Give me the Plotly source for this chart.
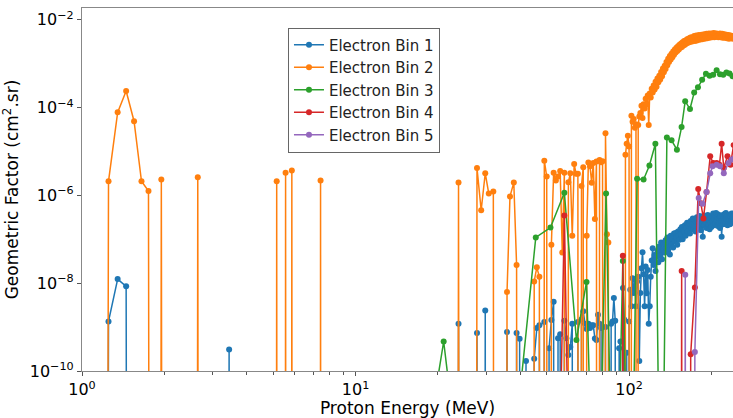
import math
import plotly.graph_objects as go

# ---------------- data (0 = no response, falls below the axis) ----------------
# Electron Bin 1 : sparse part
bin1_lo_energy = [1.15, 1.25, 1.35, 1.45, 1.55, 3.35, 3.45, 3.55,
                  22.8, 23.8, 24.8, 26.8, 27.8, 28.8, 29.8, 30.8, 34.8, 35.8, 36.8, 37.8, 38.8,
                  39.8, 41, 42, 43, 44, 45, 46, 47, 48, 49, 50, 51, 52, 53, 54, 55, 56, 57, 58,
                  59, 60, 61, 62, 63, 64, 65, 66, 67, 68, 69, 70, 71, 72, 73, 74, 75, 76, 77, 78,
                  79, 80, 81, 82, 83, 85, 86, 87, 88, 89, 90, 91, 92, 93, 94, 95, 96, 97, 98]
bin1_lo_gf = [0, 1.35e-9, 1.24e-8, 8.5e-9, 0, 0, 3.1e-10, 0,
              0, 1.2e-9, 0, 0, 7.3e-10, 0, 2.4e-9, 0, 0, 7.7e-10, 0, 0, 7.3e-10,
              5.4e-10, 0, 1.7e-10, 0, 0, 1.9e-10, 9.5e-10, 1.1e-9, 0, 1.3e-9, 0, 3.3e-10,
              1.45e-9, 3.8e-9, 0, 5.6e-10, 6.9e-10, 0, 1.4e-9,
              5.6e-10, 2.3e-10, 3.5e-10, 1.2e-9, 0, 0, 1.3e-9, 0, 1.5e-9, 2.3e-9, 1.2e-9,
              9e-10, 1.2e-9, 9.5e-10, 1.1e-9, 1.1e-9, 5.5e-10, 5.1e-10, 1.9e-9, 1.2e-9,
              9.5e-10, 0, 0, 1.0e-9, 0, 0, 1.2e-9, 1.35e-9, 4.6e-9, 1.4e-9, 0, 0, 3.3e-10,
              4.7e-10, 0, 7.8e-9, 1.5e-9, 0, 2.6e-10]
# Electron Bin 1 : dense part (1 MeV steps)
bin1_hi_energy = [99, 100, 101, 102, 103, 104, 105, 106, 107, 108,
                  109, 110, 111, 112, 113, 114, 115, 116, 117, 118,
                  119, 120, 121, 122, 123, 124, 125, 126, 127, 128,
                  129, 130, 131, 132, 133, 134, 135, 136, 137, 138,
                  139, 140, 141, 142, 143, 144, 145, 146, 147, 148,
                  149, 150, 151, 152, 153, 154, 155, 156, 157, 158,
                  159, 160, 161, 162, 163, 164, 165, 166, 167, 168,
                  169, 170, 171, 172, 173, 174, 175, 176, 177, 178,
                  179, 180, 181, 182, 183, 184, 185, 186, 187, 188,
                  189, 190, 191, 192, 193, 194, 195, 196, 197, 198,
                  199, 200, 201, 202, 203, 204, 205, 206, 207, 208,
                  209, 210, 211, 212, 213, 214, 215, 216, 217, 218,
                  219, 220, 221, 222, 223, 224, 225, 226, 227, 228,
                  229, 230, 231, 232, 233, 234, 235, 236, 237, 238,
                  239, 240, 241, 242]
bin1_hi_gf = [0, 1.35e-9, 7.1e-9, 3e-9, 1.3e-8, 6e-9, 1.2e-8, 3e-9, 1.1e-8, 1.4e-8,
              1.7e-10, 6e-9, 2.2e-8, 5.1e-8, 1.6e-8, 3e-9, 2.4e-8, 5.9e-9, 2.0e-8, 1.2e-9,
              3e-9, 1.4e-8, 3.3e-8, 6.3e-8, 2.6e-8, 4.4e-8, 1.9e-8, 4.1e-8, 5.5e-8, 3.0e-8,
              6.9e-8, 4.2e-8, 8.5e-8, 3.5e-8, 6.0e-8, 7.9e-8, 5.0e-8, 9.5e-8, 6.2e-8, 1.1e-7,
              5.5e-8, 8.8e-8, 4.5e-8, 1.2e-7, 7.5e-8, 1.05e-7, 6.5e-8, 1.35e-7, 9e-8, 1.4e-7,
              1.1e-7, 7.5e-8, 1.5e-7, 1.2e-7, 9.8e-8, 1.7e-7, 1.3e-7, 1.9e-7, 1.0e-7, 1.6e-7,
              1.5e-7, 2.1e-7, 1.2e-7, 1.8e-7, 2.4e-7, 1.5e-7, 2.0e-7, 2.3e-7, 1.35e-7, 2.6e-7,
              1.8e-7, 2.2e-7, 3.0e-7, 1.7e-7, 2.1e-7, 2.7e-7, 1.5e-7, 2.5e-7, 3.2e-7, 2.8e-7,
              1.9e-7, 2.4e-7, 3.4e-7, 2.2e-7, 1.6e-7, 2.9e-7, 2.3e-7, 1.15e-7, 2.6e-7, 3.5e-7,
              2.1e-7, 3.0e-7, 2.5e-7, 1.8e-7, 3.3e-7, 3.6e-7, 2.2e-7, 2.8e-7, 1.7e-7, 3.1e-7,
              2.4e-7, 1.9e-7, 3.4e-7, 2.6e-7, 3.9e-7, 2.1e-7, 2.9e-7, 3.5e-7, 2.3e-7, 4.0e-7,
              2.7e-7, 3.2e-7, 2.0e-7, 3.7e-7, 2.5e-7, 3.0e-7, 1.8e-7, 3.3e-7, 2.6e-7, 1.15e-7,
              2.4e-7, 3.6e-7, 2.2e-7, 3.1e-7, 2.7e-7, 3.8e-7, 2.3e-7, 4.0e-7, 2.9e-7, 3.4e-7,
              2.1e-7, 3.0e-7, 2.5e-7, 3.6e-7, 2.8e-7, 2.2e-7, 3.3e-7, 2.6e-7, 3.9e-7, 2.4e-7,
              3.1e-7, 2.7e-7, 3.4e-7, 2.9e-7]

# Electron Bin 2 : sparse part
bin2_lo_energy = [1.15, 1.25, 1.35, 1.45, 1.55, 1.65, 1.75, 1.85, 1.95, 2.05, 2.55, 2.65,
                  2.75, 5.05, 5.15, 5.25, 5.45, 5.55, 5.65, 5.75, 5.85, 5.95, 7.35, 7.45, 7.55,
                  22.8, 23.8, 24.8, 26.8, 27.8, 28.8, 29.8, 30.7, 31.9, 32.9, 34.8, 35.8, 36.7,
                  37.9, 38.8, 39.8,
                  44, 45, 46, 47, 48, 49, 50, 51, 52, 53, 54, 55, 56, 57, 58, 59, 60, 61, 62,
                  63, 64, 65, 66, 67, 68, 69, 70, 71, 72, 73, 74, 75, 76, 77, 78, 79, 80, 81,
                  82, 83, 84, 85, 96, 97, 98, 99, 100, 101, 102, 103, 104, 105, 106, 107, 108,
                  109]
bin2_lo_gf = [0, 2.1e-6, 7.8e-5, 2.4e-4, 4.9e-5, 2.1e-6, 1.26e-6, 0, 2.3e-6, 0, 0, 2.6e-6,
              0, 0, 2.1e-6, 0, 0, 3.3e-6, 0, 0, 3.7e-6, 0, 0, 2.2e-6, 0,
              0, 1.96e-6, 0, 0, 4.2e-6, 4.6e-7, 3.2e-6, 1.1e-6, 1.23e-6, 0, 0, 6.3e-9, 9.5e-7,
              1.96e-6, 2.6e-8, 0,
              0, 1.1e-8, 2.3e-8, 1.4e-8, 0, 6.2e-6, 2.7e-6, 0, 7.5e-8, 3.3e-6, 2.2e-6, 2.7e-6,
              3.6e-6, 5e-8, 3.3e-6, 0, 2.0e-6, 3.2e-6, 1.2e-7,
              5.2e-6, 3.1e-6, 3.1e-6, 0, 1.65e-6, 4.4e-6, 0, 1.2e-7, 5.6e-6, 4.6e-6, 1.95e-6,
              5.5e-6, 2.9e-7, 5.9e-6, 0, 6.4e-6, 5.7e-6, 6.0e-6, 0,
              2.6e-5, 1.3e-7, 8.5e-8, 0, 0, 8.4e-6, 1.5e-5, 2.3e-5, 1.3e-5, 0, 6.5e-5, 4.8e-5,
              5.5e-5, 3.5e-5, 4.2e-5, 0, 4.0e-5,
              6.3e-5]
# Electron Bin 2 : dense part (1 MeV steps)
bin2_hi_energy = [110, 111, 112, 113, 114, 115, 116, 117, 118, 119,
                  120, 121, 122, 123, 124, 125, 126, 127, 128, 129,
                  130, 131, 132, 133, 134, 135, 136, 137, 138, 139,
                  140, 141, 142, 143, 144, 145, 146, 147, 148, 149,
                  150, 151, 152, 153, 154, 155, 156, 157, 158, 159,
                  160, 161, 162, 163, 164, 165, 166, 167, 168, 169,
                  170, 171, 172, 173, 174, 175, 176, 177, 178, 179,
                  180, 181, 182, 183, 184, 185, 186, 187, 188, 189,
                  190, 191, 192, 193, 194, 195, 196, 197, 198, 199,
                  200, 201, 202, 203, 204, 205, 206, 207, 208, 209,
                  210, 211, 212, 213, 214, 215, 216, 217, 218, 219,
                  220, 221, 222, 223, 224, 225, 226, 227, 228, 229,
                  230, 231, 232, 233, 234, 235, 236, 237, 238, 239,
                  240, 241, 242]
bin2_hi_gf = [7.5e-5, 1.1e-4, 5.8e-5, 1.2e-4, 9.5e-5, 1.6e-4, 1.2e-4, 1.9e-4, 4.0e-5, 2.1e-4,
              1.7e-4, 2.7e-4, 2.2e-4, 3.2e-4, 2.6e-4, 3.9e-4, 3.0e-4, 4.6e-4, 3.8e-4, 5.3e-4,
              4.4e-4, 6.5e-4, 5.2e-4, 7.8e-4, 6.4e-4, 9.0e-4, 7.6e-4, 1.1e-3, 9.2e-4, 1.3e-3,
              1.1e-3, 1.5e-3, 1.25e-3, 1.7e-3, 1.4e-3, 1.9e-3, 1.6e-3, 2.1e-3, 1.8e-3, 2.3e-3,
              1.95e-3, 2.5e-3, 2.1e-3, 2.7e-3, 2.3e-3, 2.9e-3, 2.4e-3, 3.1e-3, 2.6e-3, 3.3e-3,
              2.7e-3, 3.4e-3, 2.9e-3, 3.6e-3, 3.0e-3, 3.7e-3, 3.1e-3, 3.9e-3, 3.2e-3, 4.0e-3,
              3.2e-3, 3.9e-3, 3.5e-3, 4.3e-3, 3.3e-3, 3.8e-3, 4.4e-3, 3.4e-3, 4.0e-3, 3.6e-3,
              4.5e-3, 3.5e-3, 4.1e-3, 3.7e-3, 4.6e-3, 3.6e-3, 4.2e-3, 3.9e-3, 4.7e-3, 3.7e-3,
              4.4e-3, 4.0e-3, 4.8e-3, 3.8e-3, 4.5e-3, 4.1e-3, 4.9e-3, 3.9e-3, 4.6e-3, 4.2e-3,
              4.9e-3, 4.0e-3, 4.7e-3, 4.3e-3, 5.0e-3, 4.0e-3, 4.6e-3, 4.2e-3, 4.9e-3, 4.1e-3,
              4.8e-3, 4.3e-3, 4.0e-3, 4.7e-3, 4.2e-3, 4.9e-3, 4.0e-3, 4.5e-3, 4.1e-3, 4.8e-3,
              3.9e-3, 4.6e-3, 4.2e-3, 4.7e-3, 3.9e-3, 4.4e-3, 4.1e-3, 4.6e-3, 3.8e-3, 4.4e-3,
              4.0e-3, 4.5e-3, 3.7e-3, 4.3e-3, 3.9e-3, 4.4e-3, 3.8e-3, 4.2e-3, 3.9e-3, 4.3e-3,
              3.7e-3, 4.2e-3, 3.9e-3]

# Electron Bin 3 (coarser sampling)
bin3_energy = [15, 21, 27, 33, 39.5, 45.6, 51.6, 58, 64.2, 69.9, 76, 82.4, 88.5, 94.9, 101,
               107, 113, 118.7, 124.8, 131, 137.5, 143, 149.6, 155.6, 160.4, 167, 173, 178.6,
               185, 191, 197, 203, 209, 215, 221, 227, 233, 239, 245]
bin3_gf = [1e-15, 4.7e-10, 1e-15, 1e-15, 1.7e-11, 1.1e-7, 1.85e-7, 1.15e-6, 5.1e-10, 1.07e-8,
           1e-16, 1.1e-6, 1e-16, 3.2e-8, 1e-16,
           2.4e-6, 2.3e-6, 4.8e-6, 1.5e-5, 1e-16, 2.1e-5, 1.8e-5, 1.1e-5, 3.6e-5, 1.4e-4,
           9.3e-5, 2.2e-4, 2.9e-4,
           4.3e-4, 5.9e-4, 5.3e-4, 5.6e-4, 7.1e-4, 5.8e-4, 5.6e-4, 6.3e-4, 6.0e-4, 5.2e-4,
           5.5e-4]

# Electron Bin 4
bin4_energy = [52, 58, 64, 89, 94.9, 101, 150, 155.7, 161, 167, 168, 174, 179, 183, 187, 192,
               198, 203, 209, 214, 218, 222, 229, 235, 241, 247]
bin4_gf = [1e-22, 3.5e-7, 1e-22, 0, 4.2e-8, 0, 0, 1.9e-8, 0, 0, 2.4e-10, 8e-9, 1.4e-6, 6.6e-7,
           3.0e-7, 1.2e-6, 7.8e-6, 5.5e-6, 5.5e-6, 5.0e-6, 1.5e-5, 4.2e-6, 7.8e-6, 5.0e-6,
           1.4e-5, 1.0e-5]

# Electron Bin 5
bin5_energy = [155, 160.5, 166, 169, 174, 179.7, 185.7, 192, 198, 202, 209, 215, 222, 231,
               237, 243]
bin5_gf = [0, 1.55e-8, 0, 0, 2.7e-10, 8.7e-7, 6.5e-7, 1.2e-6, 3.2e-6, 4.6e-6, 5.0e-6, 4.6e-6,
           3.2e-6, 5.5e-6, 6.6e-6, 7.0e-6]

series_names = ["Electron Bin 1", "Electron Bin 2", "Electron Bin 3", "Electron Bin 4",
                "Electron Bin 5"]
series_colors = ["#1f77b4", "#ff7f0e", "#2ca02c", "#d62728", "#9467bd"]

THRESHOLD = 5.3e-4
FLOOR = 1e-100  # stand-in for zero on the log axis

x_tickvals = [1, 10, 100]
x_ticktext = ["10<sup>0</sup>", "10<sup>1</sup>", "10<sup>2</sup>"]
x_minorvals = [2, 3, 4, 5, 6, 7, 8, 9, 20, 30, 40, 50, 60, 70, 80, 90, 200]
y_tickvals = [1e-10, 1e-8, 1e-6, 1e-4, 1e-2]
y_ticktext = ["10<sup>\u221210</sup>", "10<sup>\u22128</sup>", "10<sup>\u22126</sup>",
              "10<sup>\u22124</sup>", "10<sup>\u22122</sup>"]

# ---------------- figure ----------------
all_e = [bin1_lo_energy + bin1_hi_energy, bin2_lo_energy + bin2_hi_energy, bin3_energy,
         bin4_energy, bin5_energy]
all_g = [bin1_lo_gf + bin1_hi_gf, bin2_lo_gf + bin2_hi_gf, bin3_gf, bin4_gf, bin5_gf]

fig = go.Figure()
for name, color, e, g in zip(series_names, series_colors, all_e, all_g):
    fig.add_trace(go.Scatter(
        x=e, y=[v if v > 0 else FLOOR for v in g], name=name, mode="lines+markers",
        line=dict(color=color, width=1.5, simplify=False),
        marker=dict(color=color, size=6),
    ))

fig.add_shape(type="line", xref="paper", x0=0, x1=1, yref="y",
              y0=math.log10(THRESHOLD), y1=math.log10(THRESHOLD),
              line=dict(color="black", width=1, dash="6px,2.5px,1.5px,2.5px"), layer="above")

fig.update_layout(
    width=733, height=418,
    margin=dict(l=82, r=0, t=8, b=47),
    paper_bgcolor="white", plot_bgcolor="white",
    font=dict(family="DejaVu Sans", size=16, color="black"),
    legend=dict(x=0.3164, y=0.946, xanchor="left", yanchor="top",
                bgcolor="rgba(255,255,255,0.8)", bordercolor="#666", borderwidth=1,
                font=dict(size=15, color="#222")),
)
fig.update_xaxes(
    type="log", range=[0, 2.38], tickmode="array", tickvals=x_tickvals, ticktext=x_ticktext,
    tickfont=dict(size=16), ticks="outside", ticklen=4, tickcolor="#555", showline=True,
    linecolor="#888", linewidth=1.2, mirror=True, showgrid=False, zeroline=False,
    minor=dict(tickmode="array", tickvals=x_minorvals, ticks="outside", ticklen=2.5,
               tickcolor="#555", showgrid=False),
    title=dict(text="Proton Energy (MeV)", font=dict(size=17), standoff=5),
)
fig.update_yaxes(
    type="log", range=[-10, -1.73], tickmode="array", tickvals=y_tickvals,
    ticktext=y_ticktext, tickfont=dict(size=16), ticks="outside", ticklen=4,
    tickcolor="#555", showline=True, linecolor="#888", linewidth=1.2, mirror=False,
    showgrid=False, zeroline=False,
    title=dict(text="Geometric Factor (cm<sup>2</sup>.sr)", font=dict(size=17), standoff=8),
)

fig.write_html("out.html")
